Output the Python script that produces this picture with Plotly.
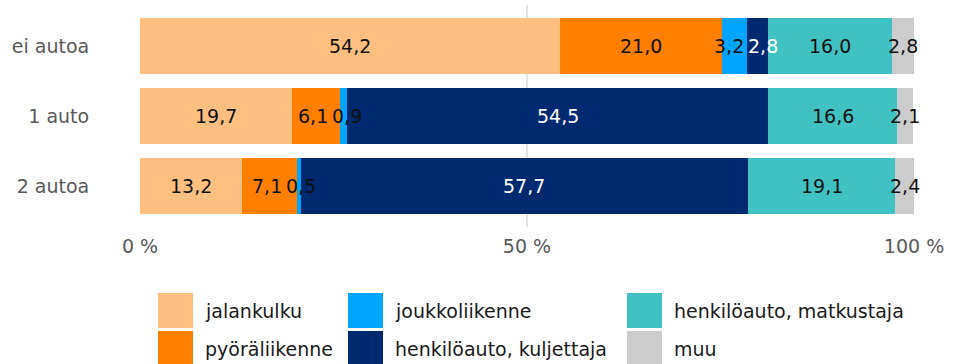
import plotly.graph_objects as go

# Kulkutapajakauma auton omistuksen mukaan (%)
categories = ["ei autoa", "1 auto", "2 autoa"]
series_names = [
    "jalankulku",
    "pyöräliikenne",
    "joukkoliikenne",
    "henkilöauto, kuljettaja",
    "henkilöauto, matkustaja",
    "muu",
]
jalankulku = [54.2, 19.7, 13.2]
pyoraliikenne = [21.0, 6.1, 7.1]
joukkoliikenne = [3.2, 0.9, 0.5]
kuljettaja = [2.8, 54.5, 57.7]
matkustaja = [16.0, 16.6, 19.1]
muu = [2.8, 2.1, 2.4]
tick_values = [0, 50, 100]
tick_labels = ["0 %", "50 %", "100 %"]

series_values = [jalankulku, pyoraliikenne, joukkoliikenne, kuljettaja, matkustaja, muu]
colors = ["#FFBF80", "#FF7F00", "#00A5FF", "#002A70", "#40C2C4", "#CCCCCC"]
label_colors = ["#111111", "#111111", "#111111", "#FFFFFF", "#111111", "#111111"]

FONT = "Verdana, DejaVu Sans, sans-serif"
FS = 19
W, H = 961, 364
ML, MR, MT, MB = 140, 47, 5, 137
pw = W - ML - MR
ph = H - MT - MB

fig = go.Figure()
for name, vals, col in zip(series_names, series_values, colors):
    fig.add_trace(go.Bar(
        y=categories, x=vals, name=name, orientation="h",
        marker=dict(color=col, line=dict(width=0)),
        showlegend=False, hoverinfo="x+name",
    ))


def text_width(s):
    # approximate advance widths of the label font
    w = {",": 0.318}
    return sum(w.get(ch, 0.636) for ch in s) * FS


# value labels centred on each segment; neighbours that collide are nudged apart
annotations = []
for ci, cat in enumerate(categories):
    cum = 0.0
    items = []
    for si, vals in enumerate(series_values):
        v = vals[ci]
        txt = f"{v:.1f}".replace(".", ",")
        centre = cum + v / 2
        items.append([centre, centre * pw / 100, text_width(txt), txt, si])
        cum += v
    gap = 4
    for _ in range(20):
        for a, b in zip(items, items[1:]):
            overlap = (a[1] + a[2] / 2 + gap) - (b[1] - b[2] / 2)
            if overlap > 0:
                a[1] -= overlap / 2
                b[1] += overlap / 2
    for centre, pos, _, txt, si in items:
        annotations.append(dict(
            x=centre, y=cat, xref="x", yref="y", text=txt, showarrow=False,
            xshift=pos - centre * pw / 100,
            font=dict(family=FONT, size=FS, color=label_colors[si]),
        ))


# legend: three columns of two rows with large colour swatches
def px_x(p):
    return (p - ML) / pw


def px_y(p):
    return 1 - (p - MT) / ph


shapes = []
col_x = [158, 348, 627]
row_y = [293, 331]
for k, (name, col) in enumerate(zip(series_names, colors)):
    c, r = divmod(k, 2)
    x0, y0 = col_x[c], row_y[r]
    shapes.append(dict(
        type="rect", xref="paper", yref="paper",
        x0=px_x(x0), x1=px_x(x0 + 35), y0=px_y(y0), y1=px_y(y0 + 35),
        fillcolor=col, line=dict(width=0), layer="above",
    ))
    annotations.append(dict(
        x=px_x(x0 + 45), y=px_y(y0 + 18), xref="paper", yref="paper",
        text=name, showarrow=False, xanchor="left", yanchor="middle",
        font=dict(family=FONT, size=FS, color="#1A1A1A"),
    ))

fig.update_layout(
    width=W, height=H,
    margin=dict(l=ML, r=MR, t=MT, b=MB, pad=0),
    barmode="stack", bargap=0.205,
    paper_bgcolor="white", plot_bgcolor="white",
    font=dict(family=FONT, size=FS, color="#595959"),
    xaxis=dict(
        range=[0, 100], tickvals=tick_values, ticktext=tick_labels,
        showgrid=True, gridcolor="#E3E3E3", gridwidth=2,
        zeroline=False, showline=False,
        ticks="outside", ticklen=2, tickcolor="rgba(0,0,0,0)",
        tickfont=dict(family=FONT, size=FS, color="#595959"),
        fixedrange=True,
    ),
    yaxis=dict(
        type="category", categoryorder="array", categoryarray=categories,
        range=[2.586, -0.586],
        showgrid=False, zeroline=False, showline=False,
        ticks="outside", ticklen=46, tickcolor="rgba(0,0,0,0)",
        tickfont=dict(family=FONT, size=FS, color="#595959"),
        fixedrange=True,
    ),
    annotations=annotations,
    shapes=shapes,
    showlegend=False,
)

fig.write_html("out.html")
